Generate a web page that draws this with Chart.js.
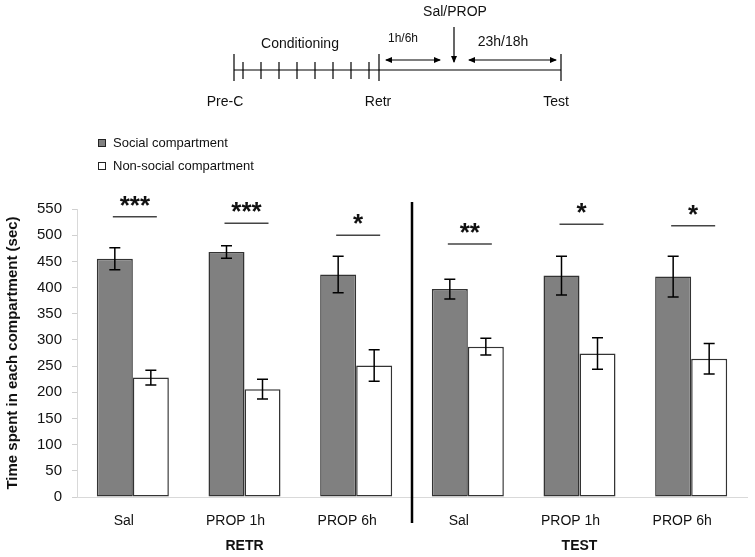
<!DOCTYPE html>
<html>
<head>
<meta charset="utf-8">
<script src="https://cdn.jsdelivr.net/npm/chart.js@4.4.1/dist/chart.umd.min.js"></script>
<style>
  html, body { margin: 0; padding: 0; background: #fff; }
  #wrap { position: relative; width: 755px; height: 557px; font-family: Arial, "Liberation Sans", sans-serif; }
  #timeline { position: absolute; left: 0; top: 0; }
  #legend { position: absolute; left: 98px; top: 131px; font-size: 13px; color: #111; }
  #legend .item { display: flex; align-items: center; height: 23px; }
  #legend .box { width: 6px; height: 6px; border: 1px solid #222; margin-right: 7px; }
</style>
</head>
<body>
<div id="wrap">
  <canvas id="grafico" width="755" height="557"></canvas>
  <svg id="timeline" width="755" height="115" font-family="Arial, 'Liberation Sans', sans-serif" font-size="14" fill="#111">
    <defs>
      <marker id="ah" markerWidth="7" markerHeight="6" refX="6" refY="3" orient="auto-start-reverse" markerUnits="userSpaceOnUse">
        <path d="M0,0 L7,3 L0,6 z" fill="#000"/>
      </marker>
    </defs>
    <g stroke="#000" stroke-width="1.2">
      <line x1="234" y1="70" x2="561" y2="70"/>
      <line x1="234" y1="54" x2="234" y2="81"/>
      <line x1="379" y1="54" x2="379" y2="81"/>
      <line x1="561" y1="54" x2="561" y2="81"/>
      <line x1="243" y1="62" x2="243" y2="79"/>
      <line x1="261" y1="62" x2="261" y2="79"/>
      <line x1="279" y1="62" x2="279" y2="79"/>
      <line x1="297" y1="62" x2="297" y2="79"/>
      <line x1="315" y1="62" x2="315" y2="79"/>
      <line x1="333" y1="62" x2="333" y2="79"/>
      <line x1="351" y1="62" x2="351" y2="79"/>
      <line x1="369" y1="62" x2="369" y2="79"/>
      <line x1="386" y1="60" x2="440" y2="60" marker-start="url(#ah)" marker-end="url(#ah)"/>
      <line x1="469" y1="60" x2="556" y2="60" marker-start="url(#ah)" marker-end="url(#ah)"/>
      <line x1="454" y1="27" x2="454" y2="62" marker-end="url(#ah)"/>
    </g>
    <text x="455" y="16" text-anchor="middle">Sal/PROP</text>
    <text x="300" y="48" text-anchor="middle">Conditioning</text>
    <text x="403" y="42" text-anchor="middle" font-size="12">1h/6h</text>
    <text x="503" y="46" text-anchor="middle">23h/18h</text>
    <text x="225" y="106" text-anchor="middle">Pre-C</text>
    <text x="378" y="106" text-anchor="middle">Retr</text>
    <text x="556" y="106" text-anchor="middle">Test</text>
  </svg>
  <div id="legend"></div>
</div>
<script>
// datos
const categorias = ['Sal', 'PROP 1h', 'PROP 6h', 'Sal', 'PROP 1h', 'PROP 6h'];
const fases = ['RETR', 'TEST'];
const socialMedia = [455, 468, 425, 397, 423, 421];
const socialError = [21, 12, 35, 19, 37, 39];
const noSocialMedia = [228, 206, 251, 287, 274, 264];
const noSocialError = [14, 19, 30, 16, 30, 29];
const sigNivel = [535, 523, 500, 483, 521, 518];
const sigEstrellas = ['***', '***', '*', '**', '*', '*'];
const yMin = 0, yMax = 550, yPaso = 50;

const FUENTE = 'Arial, "Liberation Sans", sans-serif';
const errores = [socialError, noSocialError];

// barras de error, marcas de significancia, separador y etiquetas de fase
const extrasPlugin = {
  id: 'extras',
  afterDatasetsDraw(chart) {
    const { ctx, scales: { x, y } } = chart;
    ctx.save();
    ctx.strokeStyle = '#000';
    ctx.lineWidth = 1.5;
    chart.data.datasets.forEach((ds, di) => {
      chart.getDatasetMeta(di).data.forEach((bar, i) => {
        const v = ds.data[i];
        const e = errores[di][i];
        const yt = y.getPixelForValue(v + e);
        const yb = y.getPixelForValue(v - e);
        ctx.beginPath();
        ctx.moveTo(bar.x, yt); ctx.lineTo(bar.x, yb);
        ctx.moveTo(bar.x - 5.5, yt); ctx.lineTo(bar.x + 5.5, yt);
        ctx.moveTo(bar.x - 5.5, yb); ctx.lineTo(bar.x + 5.5, yb);
        ctx.stroke();
      });
    });

    // significancia
    ctx.strokeStyle = '#444';
    ctx.lineWidth = 1.5;
    ctx.fillStyle = '#111';
    ctx.font = 'bold 26px ' + FUENTE;
    ctx.textAlign = 'center';
    ctx.textBaseline = 'alphabetic';
    sigNivel.forEach((nivel, i) => {
      const cx = x.getPixelForValue(i) + 2;
      const py = y.getPixelForValue(nivel);
      ctx.beginPath();
      ctx.moveTo(cx - 22, py); ctx.lineTo(cx + 22, py);
      ctx.stroke();
      ctx.fillText(sigEstrellas[i], cx, py - 3);
    });

    // separador RETR / TEST
    const xs = (x.getPixelForValue(2) + x.getPixelForValue(3)) / 2;
    ctx.strokeStyle = '#000';
    ctx.lineWidth = 2.5;
    ctx.beginPath();
    ctx.moveTo(xs, 202); ctx.lineTo(xs, 523);
    ctx.stroke();

    // etiquetas de fase
    ctx.font = 'bold 14px ' + FUENTE;
    ctx.textBaseline = 'middle';
    fases.forEach((f, k) => {
      ctx.fillText(f, x.getPixelForValue(1 + 3 * k), 546);
    });
    ctx.restore();
  },
};

const chart = new Chart(document.getElementById('grafico').getContext('2d'), {
  type: 'bar',
  data: {
    labels: categorias,
    datasets: [
      {
        label: 'Social compartment',
        data: socialMedia,
        backgroundColor: '#808080',
        borderColor: '#333333',
        borderWidth: 1.5,
        borderSkipped: false,
      },
      {
        label: 'Non-social compartment',
        data: noSocialMedia,
        backgroundColor: '#ffffff',
        borderColor: '#333333',
        borderWidth: 1.5,
        borderSkipped: false,
      },
    ],
  },
  options: {
    responsive: false,
    animation: false,
    layout: { padding: { top: 209, right: 8, left: 0, bottom: 0 } },
    datasets: { bar: { categoryPercentage: 0.645, barPercentage: 1.0 } },
    plugins: {
      legend: { display: false },
      tooltip: { enabled: false },
    },
    scales: {
      x: {
        grid: { display: false },
        border: { color: '#d9d9d9', width: 1 },
        ticks: { color: '#111', font: { family: FUENTE, size: 14 }, padding: 8, labelOffset: -9, maxRotation: 0 },
        afterFit: (s) => { s.height = 60; },
      },
      y: {
        min: yMin,
        max: yMax,
        grid: { display: true, drawOnChartArea: false, tickLength: 5, color: '#d0d0d0' },
        border: { color: '#d9d9d9', width: 1 },
        ticks: { stepSize: yPaso, color: '#111', font: { family: FUENTE, size: 15 }, padding: 10 },
        title: {
          display: true,
          text: 'Time spent in each compartment (sec)',
          font: { family: FUENTE, size: 15, weight: 'bold' },
          color: '#111',
          padding: 4,
        },
        afterFit: (s) => { s.width = 77; },
      },
    },
  },
  plugins: [extrasPlugin],
});

// leyenda a partir de los datasets
const leyenda = document.getElementById('legend');
chart.data.datasets.forEach((ds) => {
  const item = document.createElement('div');
  item.className = 'item';
  item.innerHTML = `<span class="box" style="background:${ds.backgroundColor}"></span><span>${ds.label}</span>`;
  leyenda.appendChild(item);
});
</script>
</body>
</html>
